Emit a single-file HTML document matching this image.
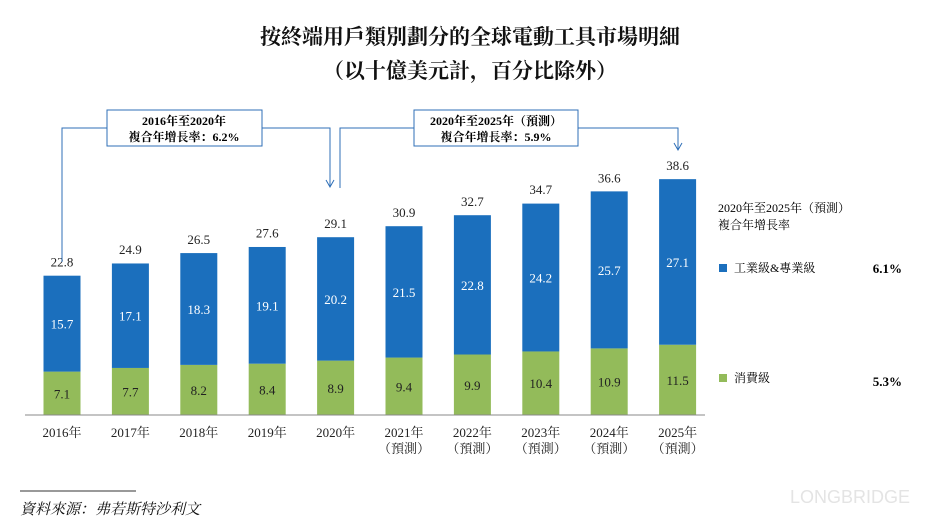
<!DOCTYPE html>
<html><head><meta charset="utf-8">
<style>
body{margin:0;background:#fff;}
svg text{font-family:"Liberation Serif","Noto Serif CJK SC","Noto Sans CJK TC",serif;}
svg text.wm{font-family:"Liberation Sans","DejaVu Sans",sans-serif;}
</style></head>
<body>
<svg width="940" height="526" viewBox="0 0 940 526" xmlns="http://www.w3.org/2000/svg">
<text x="470" y="44" text-anchor="middle" font-size="21" font-weight="bold" fill="#111">按終端用戶類別劃分的全球電動工具市場明細</text>
<text x="470" y="78" text-anchor="middle" font-size="21" font-weight="bold" fill="#111">（以十億美元計，百分比除外）</text>
<g id="bars"></g>
<line x1="25" y1="415" x2="705" y2="415" stroke="#888" stroke-width="1"/>
<g fill="none" stroke="#2f6fb7" stroke-width="1">
<polyline points="62,262 62,128 107,128"/>
<polyline points="262,128 330,128 330,187"/>
<polyline points="326,180 330,187 334,180"/>
<polyline points="340,188 340,128 414,128"/>
<polyline points="578,128 678,128 678,150"/>
<polyline points="674,143 678,150 682,143"/>
</g>
<g>
<rect x="107" y="110" width="155" height="36" fill="#fff" stroke="#2f6fb7"/>
<text x="184" y="125" text-anchor="middle" font-size="12" font-weight="bold">2016年至2020年</text>
<text x="184" y="141" text-anchor="middle" font-size="12" font-weight="bold">複合年增長率：6.2%</text>
</g>
<g>
<rect x="414" y="110" width="164" height="36" fill="#fff" stroke="#2f6fb7"/>
<text x="496" y="125" text-anchor="middle" font-size="12" font-weight="bold">2020年至2025年（預測）</text>
<text x="496" y="141" text-anchor="middle" font-size="12" font-weight="bold">複合年增長率：5.9%</text>
</g>
<g>
<text x="718" y="212" font-size="12">2020年至2025年（預測）</text>
<text x="718" y="229" font-size="12">複合年增長率</text>
<rect x="719" y="264" width="8" height="8" fill="#1b6fbd"/>
<text x="734" y="272" font-size="12">工業級&amp;專業級</text>
<text x="902" y="273" text-anchor="end" font-size="13" font-weight="bold">6.1%</text>
<rect x="719" y="374" width="8" height="8" fill="#93bb5a"/>
<text x="734" y="382" font-size="12">消費級</text>
<text x="902" y="386" text-anchor="end" font-size="13" font-weight="bold">5.3%</text>
</g>
<line x1="20" y1="491" x2="136" y2="491" stroke="#333" stroke-width="1"/>
<text x="20" y="514" font-size="15" font-style="italic" fill="#111">資料來源：弗若斯特沙利文</text>
<text class="wm" x="790" y="503" font-size="18" fill="#e4e4e4">LONGBRIDGE</text>
</svg>
<script>
const years=["2016年","2017年","2018年","2019年","2020年","2021年","2022年","2023年","2024年","2025年"];
const forecast=[false,false,false,false,false,true,true,true,true,true];
const consumer=[7.1,7.7,8.2,8.4,8.9,9.4,9.9,10.4,10.9,11.5];
const industrial=[15.7,17.1,18.3,19.1,20.2,21.5,22.8,24.2,25.7,27.1];
const totals=[22.8,24.9,26.5,27.6,29.1,30.9,32.7,34.7,36.6,38.6];
const NS="http://www.w3.org/2000/svg";
const g=document.getElementById('bars');
const base=415,k=6.11,x0=62,step=68.4,bw=37;
const xs=i=>x0+i*step, ys=v=>base-v*k;
function mk(t,a,txt){const e=document.createElementNS(NS,t);for(const n in a)e.setAttribute(n,a[n]);if(txt!=null)e.textContent=txt;g.appendChild(e);return e;}
years.forEach((y,i)=>{
 const cx=xs(i);
 const r1=mk('rect',{x:cx-bw/2,y:ys(consumer[i]),width:bw,height:consumer[i]*k,fill:'#93bb5a'});
 
 
 const r2=mk('rect',{x:cx-bw/2,y:ys(consumer[i]+industrial[i]),width:bw,height:industrial[i]*k,fill:'#1b6fbd'});
 
 
 const t1=mk('text',{x:cx,y:ys(consumer[i]/2)+5,'text-anchor':'middle','font-size':13,fill:'#222'},consumer[i].toFixed(1));
 
 
 const t2=mk('text',{x:cx,y:ys(consumer[i]+industrial[i]/2)+5,'text-anchor':'middle','font-size':13,fill:'#fff'},industrial[i].toFixed(1));
 
 
 const t3=mk('text',{x:cx,y:ys(totals[i])-9,'text-anchor':'middle','font-size':13,fill:'#222'},totals[i].toFixed(1));
 
 
 const t4=mk('text',{x:cx,y:437,'text-anchor':'middle','font-size':13,fill:'#222'},y);
 
 
 if(forecast[i]){
  const t5=mk('text',{x:cx,y:453,'text-anchor':'middle','font-size':13,fill:'#222'},'（預測）');
  
  
 }
});
</script>
</body></html>
